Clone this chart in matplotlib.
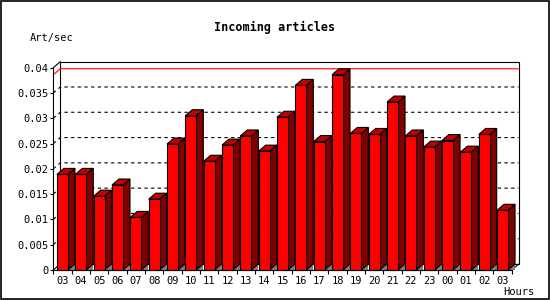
import numpy as np
import matplotlib
matplotlib.use("Agg")
import matplotlib.pyplot as plt
from matplotlib.patches import Rectangle, Polygon

hours = ["03", "04", "05", "06", "07", "08", "09", "10", "11", "12", "13", "14",
         "15", "16", "17", "18", "19", "20", "21", "22", "23", "00", "01", "02", "03"]
rates = [0.0189, 0.0189, 0.0146, 0.0168, 0.0104, 0.0140, 0.0249, 0.0305, 0.0215,
         0.0247, 0.0265, 0.0235, 0.0302, 0.0365, 0.0254, 0.0386, 0.0270, 0.0268,
         0.0332, 0.0265, 0.0243, 0.0256, 0.0233, 0.0268, 0.0118]
yticks = [0, 0.005, 0.01, 0.015, 0.02, 0.025, 0.03, 0.035, 0.04]
ytick_labels = ["0", "0.005", "0.01", "0.015", "0.02", "0.025", "0.03", "0.035", "0.04"]

W, H = 550, 300
fig = plt.figure(figsize=(W / 100, H / 100), dpi=100)
plt.rcParams['font.family'] = ['DejaVu Sans Mono']

# front plane of the 3d chart
ax = fig.add_axes([53.3 / W, 30 / H, (511.7 - 53.3) / W, (270 - 67.7) / H])
n = len(rates)
ymax = 0.04
ax.set_xlim(-0.5, n - 0.5)
ax.set_ylim(0, ymax)
ax.patch.set_alpha(0)

# depth of the 3d effect: 7 px right, 6 px up, converted to data units
p0 = ax.transData.transform((0, 0))
p1 = ax.transData.transform((1, 0.01))
dx = 7 / (p1[0] - p0[0])
dy = 6 / ((p1[1] - p0[1]) / 0.01)

lw = 0.8
xl, xr = -0.5, n - 0.5

# back wall
ax.add_patch(Rectangle((xl + dx, dy), xr - xl, ymax, fill=False, ec="black",
                       lw=lw, clip_on=False, zorder=1))
for a, b in [((xl, 0), (xl + dx, dy)), ((xl, ymax), (xl + dx, ymax + dy)),
             ((xr, 0), (xr + dx, dy))]:
    ax.plot([a[0], b[0]], [a[1], b[1]], color="black", lw=lw, clip_on=False, zorder=1)

# dotted grid on back wall
for v in yticks[1:-1]:
    ax.plot([xl, xl + dx, xr + dx], [v, v + dy, v + dy], color="black", lw=lw,
            ls=(0, (3, 3)), clip_on=False, zorder=1)

# max line
m = max(rates)
ax.plot([xl, xl + dx, xr + dx], [m, m + dy, m + dy], color="red", lw=lw,
        clip_on=False, zorder=1.5)

# bars
bw = 0.6
for i, h in enumerate(rates):
    x0, x1 = i - bw / 2, i + bw / 2
    ax.add_patch(Polygon([(x1, 0), (x1 + dx, 0), (x1 + dx, dy)], closed=True,
                         fc="#808080", ec="none", clip_on=False, zorder=2))
    ax.add_patch(Polygon([(x1, 0), (x1 + dx, dy), (x1 + dx, h + dy), (x1, h)],
                         closed=True, fc="#800000", ec="black", lw=lw,
                         clip_on=False, zorder=2))
    ax.add_patch(Polygon([(x0, h), (x1, h), (x1 + dx, h + dy), (x0 + dx, h + dy)],
                         closed=True, fc="#C00000", ec="black", lw=lw,
                         clip_on=False, zorder=2))
    ax.add_patch(Rectangle((x0, 0), bw, h, fc="#FF0000", ec="black", lw=lw,
                           clip_on=False, zorder=3))

# axes
for s in ["top", "right"]:
    ax.spines[s].set_visible(False)
for s in ["left", "bottom"]:
    ax.spines[s].set_linewidth(lw)
    ax.spines[s].set_zorder(4)

ax.set_yticks(yticks)
ax.set_yticklabels(ytick_labels)
ax.set_xticks(np.arange(n + 1) - 0.5)
ax.set_xticklabels([])
ax.set_xticks(np.arange(n), minor=True)
ax.set_xticklabels(hours, minor=True)
ax.tick_params(axis="y", length=2.2, width=lw, pad=1.5, labelsize=7.5)
ax.tick_params(axis="x", which="major", length=3, width=lw, direction="out")
ax.tick_params(axis="x", which="minor", length=0, pad=4, labelsize=7.5)

fig.text(0.5, 1 - 27 / H, "Incoming articles", ha="center", va="center",
         fontsize=8.5, fontweight="bold")
fig.text(30 / W, 1 - 38 / H, "Art/sec", ha="left", va="center", fontsize=7.5)
fig.text(534 / W, 1 - 292 / H, "Hours", ha="right", va="center", fontsize=7.5)

fig.patches.append(Rectangle((0.5 / W, 1.5 / H), 548 / W, 297.5 / H, fill=False,
                             ec="black", lw=1.2, transform=fig.transFigure))

fig.savefig("out.png", dpi=100)
